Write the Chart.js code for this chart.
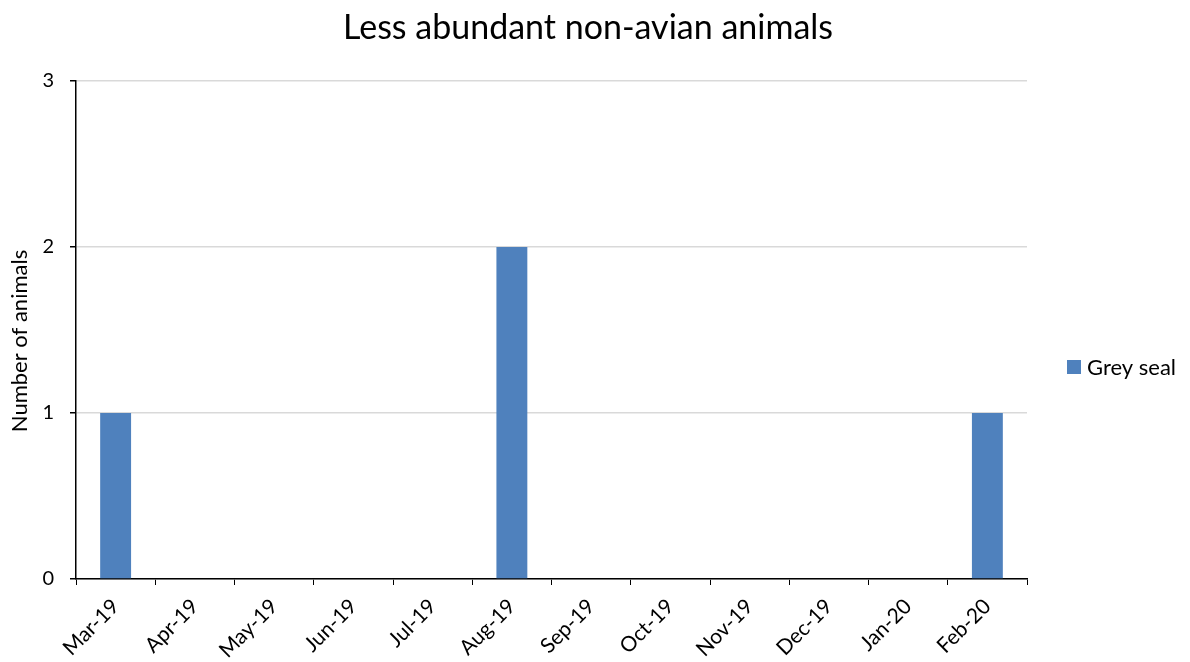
<!DOCTYPE html>
<html>
<head>
<meta charset="utf-8">
<script src="https://cdn.jsdelivr.net/npm/chart.js@4.4.1/dist/chart.umd.min.js"></script>
<style>
  html, body { margin: 0; padding: 0; background: #ffffff; }
  #wrap { width: 1190px; height: 662px; position: relative; }
</style>
</head>
<body>
<div id="wrap"><canvas id="c"></canvas></div>
<script>
// Monthly counts of less abundant non-avian animals
const months = ['Mar-19', 'Apr-19', 'May-19', 'Jun-19', 'Jul-19', 'Aug-19',
                'Sep-19', 'Oct-19', 'Nov-19', 'Dec-19', 'Jan-20', 'Feb-20'];
const greySeal = [1, 0, 0, 0, 0, 2, 0, 0, 0, 0, 0, 1];
const yTicks = [0, 1, 2, 3];
const chartTitle = 'Less abundant non-avian animals';
const yAxisTitle = 'Number of animals';

const FONT = 'Lato, "Open Sans", sans-serif';

// Title, y-axis caption and legend, placed around the plot area
const decorations = {
  id: 'decorations',
  afterDraw(chart) {
    const ctx = chart.ctx;
    ctx.save();
    ctx.fillStyle = '#000000';

    // chart title, centred over the whole figure
    ctx.font = '34px ' + FONT;
    ctx.textAlign = 'center';
    ctx.textBaseline = 'alphabetic';
    ctx.fillText(chartTitle, 588, 39);

    // y-axis caption
    ctx.save();
    ctx.translate(20, 341);
    ctx.rotate(-Math.PI / 2);
    ctx.font = '22px ' + FONT;
    ctx.textBaseline = 'middle';
    ctx.fillText(yAxisTitle, 0, 0);
    ctx.restore();

    // legend
    ctx.font = '22px ' + FONT;
    ctx.textAlign = 'left';
    ctx.textBaseline = 'middle';
    chart.data.datasets.forEach((ds, i) => {
      const y = 367 + i * 28;
      ctx.fillStyle = ds.backgroundColor;
      ctx.fillRect(1067, y - 7, 14, 14);
      ctx.fillStyle = '#000000';
      ctx.fillText(ds.label, 1087, y + 1);
    });
    ctx.restore();
  }
};

new Chart(document.getElementById('c'), {
  type: 'bar',
  data: {
    labels: months,
    datasets: [{
      label: 'Grey seal',
      data: greySeal,
      backgroundColor: '#4f81bd',
      borderWidth: 0,
      categoryPercentage: 1.0,
      barPercentage: 0.39
    }]
  },
  options: {
    responsive: true,
    maintainAspectRatio: false,
    animation: false,
    layout: { padding: { left: 0, right: 163, top: 81, bottom: 0 } },
    plugins: {
      legend: { display: false },
      tooltip: { enabled: false },
      title: { display: false }
    },
    scales: {
      x: {
        grid: {
          offset: true,
          drawOnChartArea: false,
          drawTicks: true,
          tickLength: 6,
          tickColor: '#000000'
        },
        border: { color: '#000000', width: 1.5 },
        ticks: {
          color: '#000000',
          font: { family: FONT, size: 21 },
          maxRotation: 45,
          minRotation: 45,
          padding: 9,
          autoSkip: false
        },
        afterFit(scale) { scale.height = 83; }
      },
      y: {
        min: 0,
        max: 3,
        afterBuildTicks(scale) { scale.ticks = yTicks.map(v => ({ value: v })); },
        grid: {
          color: '#d9d9d9',
          lineWidth: 1.5,
          drawTicks: true,
          tickLength: 6,
          tickColor: '#000000'
        },
        border: { color: '#000000', width: 1.5 },
        ticks: {
          color: '#000000',
          font: { family: FONT, size: 20 },
          padding: 16
        },
        afterFit(scale) { scale.width = 76; }
      }
    }
  },
  plugins: [decorations]
});
</script>
</body>
</html>
